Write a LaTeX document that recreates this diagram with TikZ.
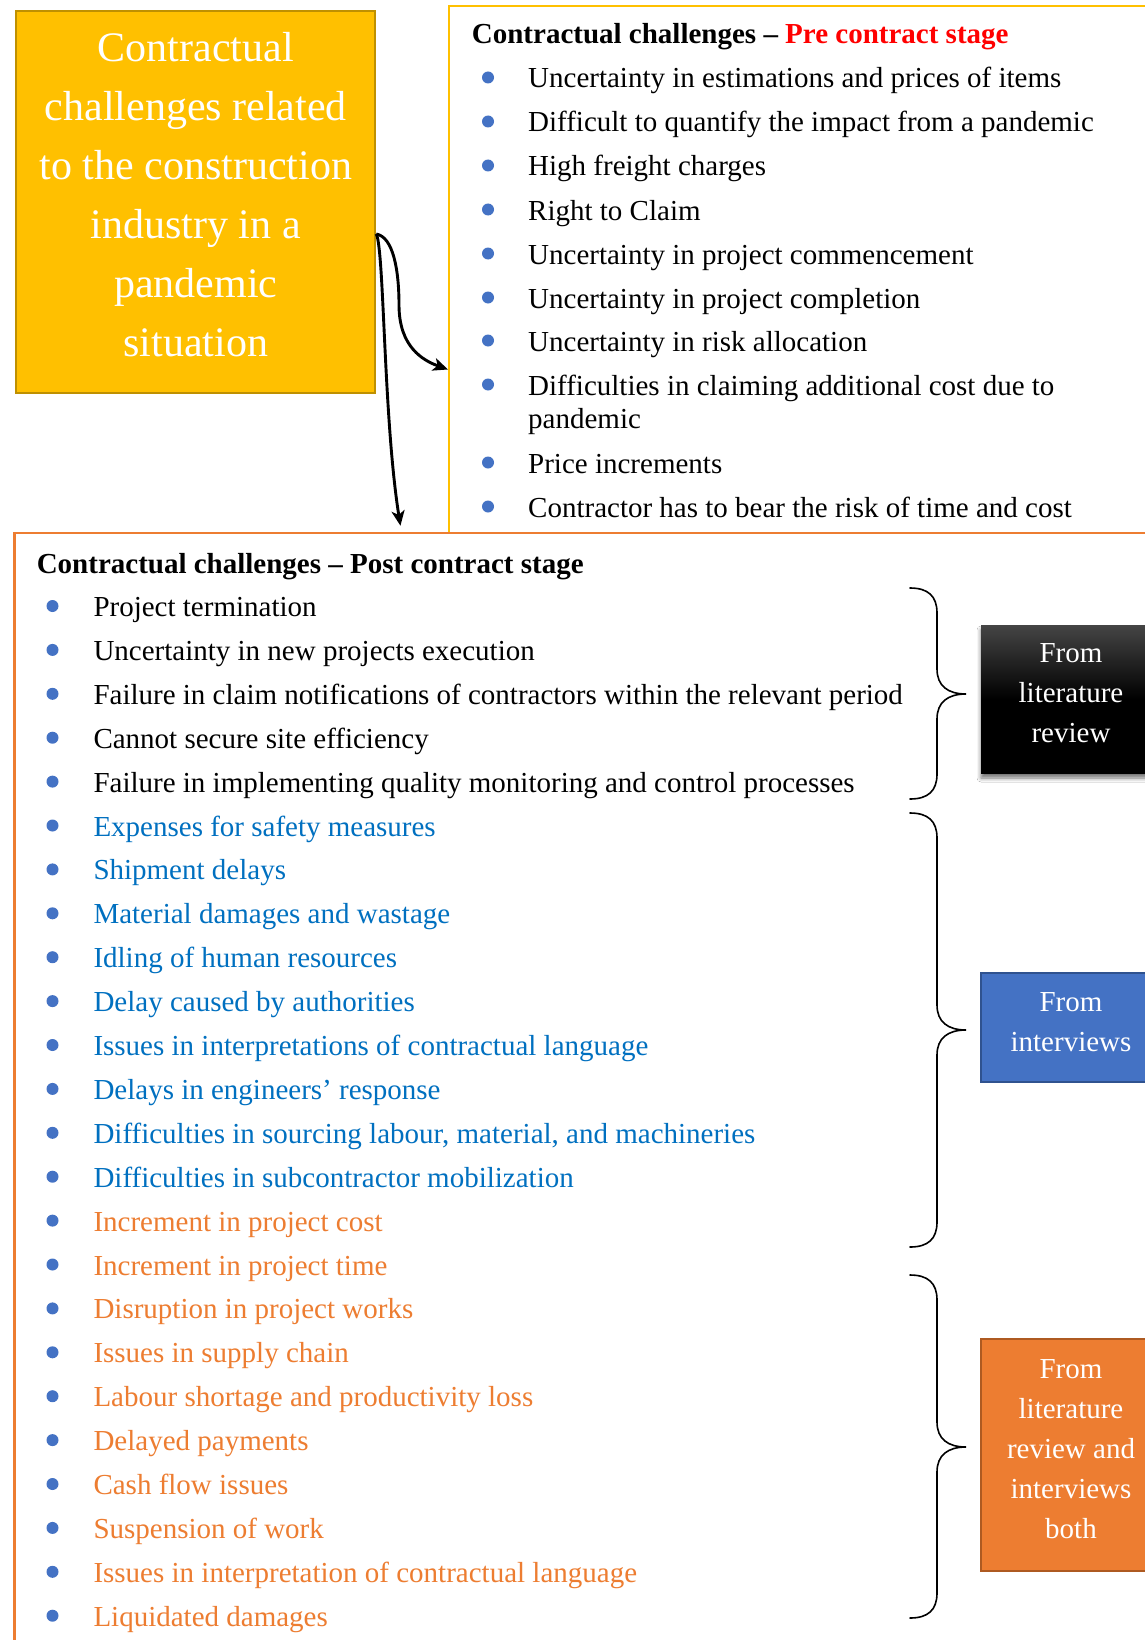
\documentclass[tikz,border=0pt]{standalone}
\usepackage{fontspec}
\setmainfont{Liberation Serif}
\usetikzlibrary{arrows.meta,shadows.blur}

\definecolor{gold}{HTML}{FFC000}
\definecolor{golddark}{HTML}{BF9000}
\definecolor{postorange}{HTML}{ED7D31}
\definecolor{orangedark}{HTML}{AE5A21}
\definecolor{bulletblue}{HTML}{4472C4}
\definecolor{tagbluedark}{HTML}{2F528F}
\definecolor{itemblue}{HTML}{0070C0}
\definecolor{titlered}{HTML}{FF0000}
\definecolor{shadetop}{HTML}{454545}

\newcommand\itemfont{\fontsize{29}{33.5}\selectfont}
\newcommand\bigfont{\fontsize{42}{59}\selectfont}
\newcommand\tagfont{\fontsize{29}{40}\selectfont}

\begin{document}
\begin{tikzpicture}[x=1pt,y=-1pt,
  itemtext/.style={anchor=base west, inner sep=0pt, font=\itemfont, align=left},
  dot/.style={circle, fill=bulletblue, draw=none, inner sep=0pt, minimum size=12pt},
  conn/.style={line width=2.9pt, -{Stealth[length=15pt,width=13pt,inset=4pt]}},
  cbr/.style={line width=1.6pt, line cap=round},
  frame/.style={rectangle, inner sep=0pt, fill=none},
  tagbox/.style={rectangle, minimum width=180pt, inner sep=0pt, line width=1.5pt},
  tagtext/.style={text=white, font=\tagfont, align=center, inner sep=0pt},
]
\useasboundingbox (0,0) rectangle (1145,1640);
\clip (0,0) rectangle (1145,1640);
\fill[white] (0,0) rectangle (1145,1640);

% frames of the two stages
\node[frame, draw=gold, line width=2pt, minimum width=721pt, minimum height=527pt] (pre) at (809.5,269.5) {};
\node[frame, draw=postorange, line width=2.5pt, minimum width=1160pt, minimum height=1140pt] (post) at (594.7,1103) {};

% main topic box
\node[rectangle, fill=gold, draw=golddark, line width=2pt, minimum width=359pt, minimum height=382pt, inner sep=0pt] (main) at (195.75,202) {};
\node[text=white, font=\bigfont, align=center, inner sep=0pt] (maintext) at (195.75,194.5)
  {Contractual\\challenges related\\to the construction\\industry in a\\pandemic\\situation};

% connectors
\draw[conn] ([yshift=-224pt]main.north east) .. controls +(17,3) and +(0,-35) .. (399,305)
  .. controls +(0,42) and +(-25,-9) .. ([yshift=-100pt]pre.west);
\draw[conn] ([yshift=-224pt]main.north east) .. controls +(8,15) and +(-17,-107) .. ([shift={(387pt,6pt)}]post.north west);

% pre contract stage (bullet baseline / baseline of the last text line)
\node[itemtext, font=\bfseries\itemfont] (pretitle) at (471.7,43.3)
  {Contractual challenges -- \textcolor{titlered}{Pre contract stage}};
\foreach \n/\yb/\yt/\t in {
  1/88/88/{Uncertainty in estimations and prices of items},
  2/132/132/{Difficult to quantify the impact from a pandemic},
  3/176/176/{High freight charges},
  4/220/220/{Right to Claim},
  5/264/264/{Uncertainty in project commencement},
  6/308/308/{Uncertainty in project completion},
  7/351/351/{Uncertainty in risk allocation},
  8/395/428.5/{Difficulties in claiming additional cost due to\\pandemic},
  9/473/473/{Price increments},
  10/517/517/{Contractor has to bear the risk of time and cost}} {
  \node[dot] (pd\n) at (488,\yb-10.5) {};
  \node[itemtext] (pi\n) at (528,\yt) {\t};
}

% post contract stage
\node[itemtext, font=\bfseries\itemfont] (posttitle) at (36.6,573)
  {Contractual challenges -- Post contract stage};
\foreach \t/\c [count=\n] in {
  {Project termination}/black,
  {Uncertainty in new projects execution}/black,
  {Failure in claim notifications of contractors within the relevant period}/black,
  {Cannot secure site efficiency}/black,
  {Failure in implementing quality monitoring and control processes}/black,
  {Expenses for safety measures}/itemblue,
  {Shipment delays}/itemblue,
  {Material damages and wastage}/itemblue,
  {Idling of human resources}/itemblue,
  {Delay caused by authorities}/itemblue,
  {Issues in interpretations of contractual language}/itemblue,
  {Delays in engineers’ response}/itemblue,
  {Difficulties in sourcing labour, material, and machineries}/itemblue,
  {Difficulties in subcontractor mobilization}/itemblue,
  {Increment in project cost}/postorange,
  {Increment in project time}/postorange,
  {Disruption in project works}/postorange,
  {Issues in supply chain}/postorange,
  {Labour shortage and productivity loss}/postorange,
  {Delayed payments}/postorange,
  {Cash flow issues}/postorange,
  {Suspension of work}/postorange,
  {Issues in interpretation of contractual language}/postorange,
  {Liquidated damages}/postorange} {
  \pgfmathsetmacro\yy{616.5+43.9*(\n-1)}
  \node[dot] (qd\n) at (52.5,\yy-10.5) {};
  \node[itemtext, text=\c] (qi\n) at (93.3,\yy) {\t};
}

% grouping braces
\draw[cbr] (910,588) .. controls (928,588) and (937,596) .. (937,613) -- (937,669)
  .. controls (937,686) and (948,694) .. (966,694) .. controls (948,694) and (937,702) .. (937,719)
  -- (937,774) .. controls (937,791) and (928,799) .. (910,799);
\draw[cbr] (910,813) .. controls (928,813) and (937,821) .. (937,838) -- (937,1005)
  .. controls (937,1022) and (948,1030) .. (966,1030) .. controls (948,1030) and (937,1038) .. (937,1055)
  -- (937,1222) .. controls (937,1239) and (928,1247) .. (910,1247);
\draw[cbr] (910,1275) .. controls (928,1275) and (937,1283) .. (937,1300) -- (937,1422)
  .. controls (937,1439) and (948,1447) .. (966,1447) .. controls (948,1447) and (937,1455) .. (937,1472)
  -- (937,1593) .. controls (937,1610) and (928,1618) .. (910,1618);

% source tags
\node[tagbox, minimum height=148pt, top color=shadetop, bottom color=black, middle color=black, draw=none,
  blur shadow={shadow xshift=0pt, shadow yshift=-5pt, shadow blur radius=4pt, shadow opacity=55}] (litbox) at (1071,699) {};
\node[tagtext] (littext) at (1071,693) {From\\literature\\review};
\node[tagbox, fill=bulletblue, draw=tagbluedark, minimum height=109pt] (intbox) at (1071,1027.5) {};
\node[tagtext] (inttext) at (1071,1022) {From\\interviews};
\node[tagbox, fill=postorange, draw=orangedark, minimum height=232pt] (bothbox) at (1071,1455) {};
\node[tagtext] (bothtext) at (1071,1449) {From\\literature\\review and\\interviews\\both};
\end{tikzpicture}
\end{document}
